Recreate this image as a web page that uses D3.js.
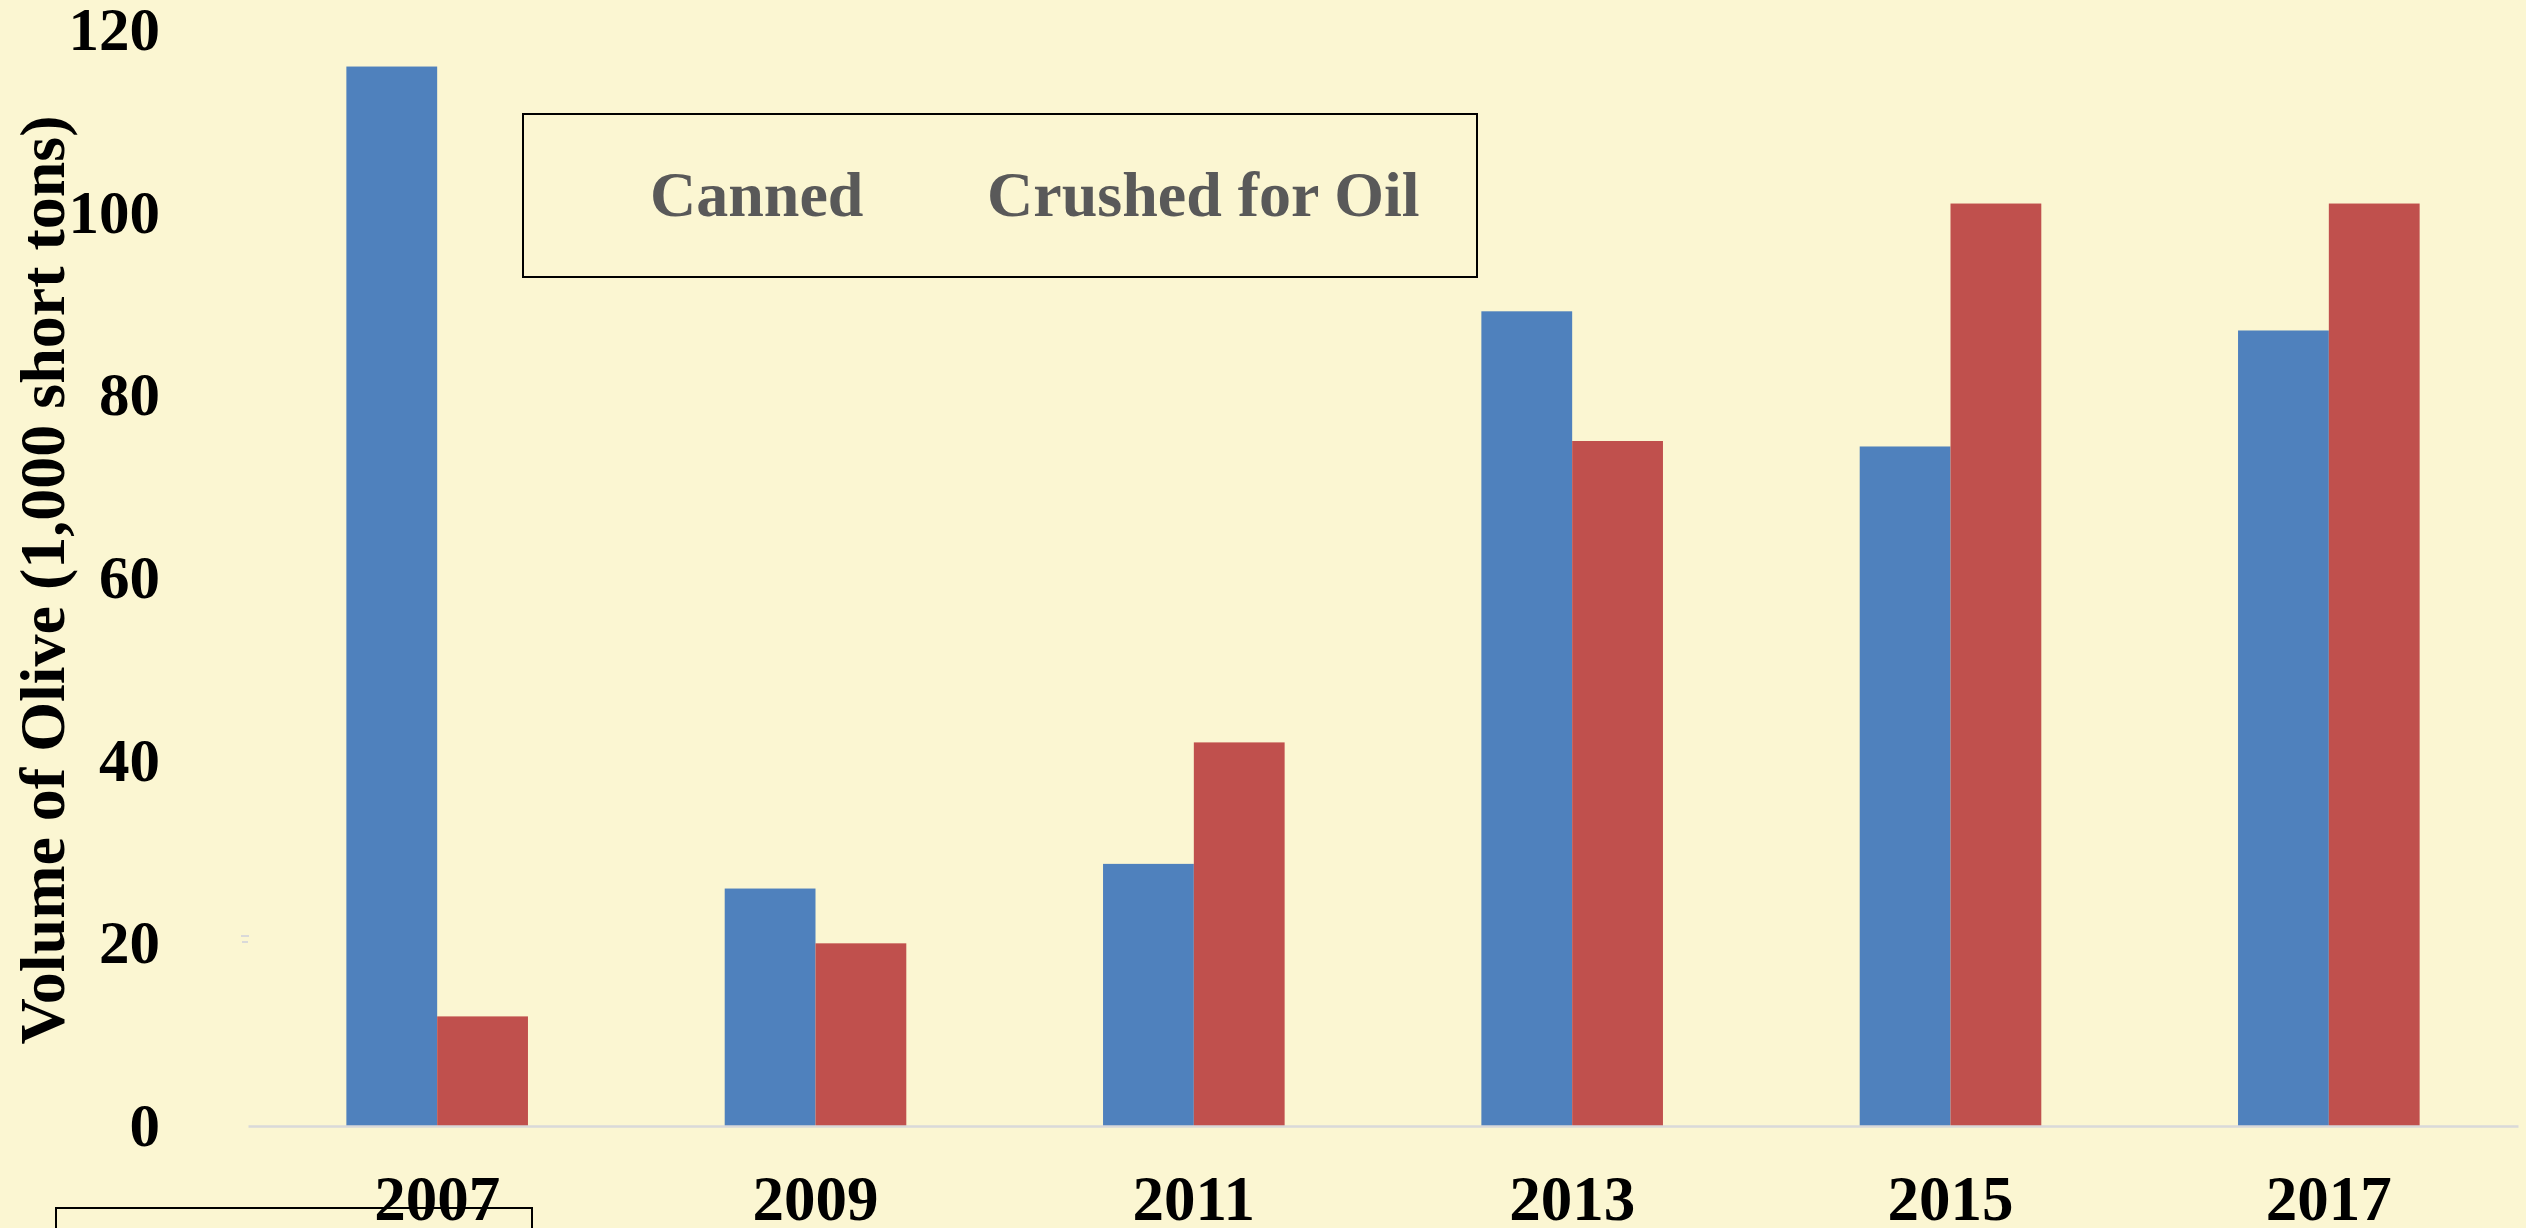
<!DOCTYPE html>
<html>
<head>
<meta charset="utf-8">
<script src="https://d3js.org/d3.v7.min.js"></script>
<style>
  html, body { margin: 0; padding: 0; background: #fbf6d2; }
  svg { display: block; }
  text { font-family: "Liberation Serif", "Times New Roman", serif; font-weight: bold; }
</style>
</head>
<body>
<svg id="chart" width="2526" height="1228"></svg>
<script>
  "use strict";

  var years = ["2007", "2009", "2011", "2013", "2015", "2017"];
  var seriesNames = ["Canned", "Crushed for Oil"];
  var canned = [116, 26, 28.7, 89.2, 74.4, 87.1];
  var crushed = [12, 20, 42, 75, 101, 101];
  var yTicks = [0, 20, 40, 60, 80, 100, 120];
  var colors = ["#4f81bd", "#c0504d"];

  var width = 2526;
  var height = 1228;
  var margin = { left: 248, right: 8, top: 30, bottom: 102 };

  var svg = d3.select('#chart');

  svg.append("rect")
    .attr("width", width)
    .attr("height", height)
    .attr("fill", "#fbf6d2");

  var x = d3.scaleBand()
    .domain(years)
    .range([margin.left, width - margin.right])
    .paddingInner(0.52)
    .paddingOuter(0.26);

  var xSeries = d3.scaleBand()
    .domain(seriesNames)
    .range([0, x.bandwidth()]);

  var y = d3.scaleLinear()
    .domain([0, 120])
    .range([height - margin.bottom, margin.top]);

  var rows = years.map(function(year, i) {
    return { year: year, values: [canned[i], crushed[i]] };
  });

  // bars, one group per year
  var groups = svg.selectAll("g.year")
    .data(rows)
    .enter()
    .append("g")
    .classed('year', true)
    .attr("transform", function(d) { return "translate(" + x(d.year) + ",0)"; });

  groups.selectAll("rect")
    .data(function(d) {
      return d.values.map(function(v, j) { return { name: seriesNames[j], value: v, color: colors[j] }; });
    })
    .enter()
    .append("rect")
    .attr("x", function(d) { return xSeries(d.name); })
    .attr("y", function(d) { return y(d.value); })
    .attr("width", xSeries.bandwidth())
    .attr("height", function(d) { return y(0) - y(d.value); })
    .attr("fill", function(d) { return d.color; });

  // x axis
  var gx = svg.append("g")
    .attr("transform", "translate(0," + y(0) + ")")
    .call(d3.axisBottom(x).tickSize(0).tickSizeOuter(0));

  gx.select(".domain")
    .attr("stroke", "#d9d9d9")
    .attr("stroke-width", 2.5);

  gx.selectAll("text")
    .attr("dy", null)
    .attr("y", 94)
    .attr("fill", "#000")
    .style("font-size", "63px");

  // y axis, labels only
  var gy = svg.append("g")
    .attr("transform", "translate(" + margin.left + ",0)")
    .call(d3.axisLeft(y).tickValues(yTicks).tickSize(0).tickPadding(88));

  gy.select(".domain").remove();

  gy.selectAll("text")
    .attr("fill", "#000")
    .style("font-size", "61px");

  svg.append("text")
    .attr("transform", "translate(64,580) rotate(-90)")
    .attr("text-anchor", "middle")
    .attr("fill", "#000")
    .style("font-size", "64px")
    .text("Volume of Olive (1,000 short tons)");

  // small stray marks left of the plot
  svg.append("line")
    .attr("x1", 241).attr("x2", 249).attr("y1", 936).attr("y2", 936)
    .attr("stroke", "#d9d9d9").attr("stroke-width", 2);
  svg.append("line")
    .attr("x1", 242).attr("x2", 248).attr("y1", 942).attr("y2", 942)
    .attr("stroke", "#d9d9d9").attr("stroke-width", 2);

  // legend: boxed text, no swatches
  var legend = svg.append("g").classed('legend', true);

  legend.append("rect")
    .attr("x", 523)
    .attr("y", 114)
    .attr("width", 954)
    .attr("height", 163)
    .attr("fill", "none")
    .attr("stroke", "#000")
    .attr("stroke-width", 2);

  var legendX = [650, 987];
  legend.selectAll("text")
    .data(seriesNames)
    .enter()
    .append("text")
    .attr("x", function(d, i) { return legendX[i]; })
    .attr("y", 216)
    .attr("fill", "#595959")
    .style("font-size", "64px")
    .text(function(d) { return d; });

  // empty box cut off at the bottom left
  svg.append("rect")
    .attr("x", 56)
    .attr("y", 1208)
    .attr("width", 476)
    .attr("height", 60)
    .attr("fill", "none")
    .attr("stroke", "#000")
    .attr("stroke-width", 2);
</script>
</body>
</html>
